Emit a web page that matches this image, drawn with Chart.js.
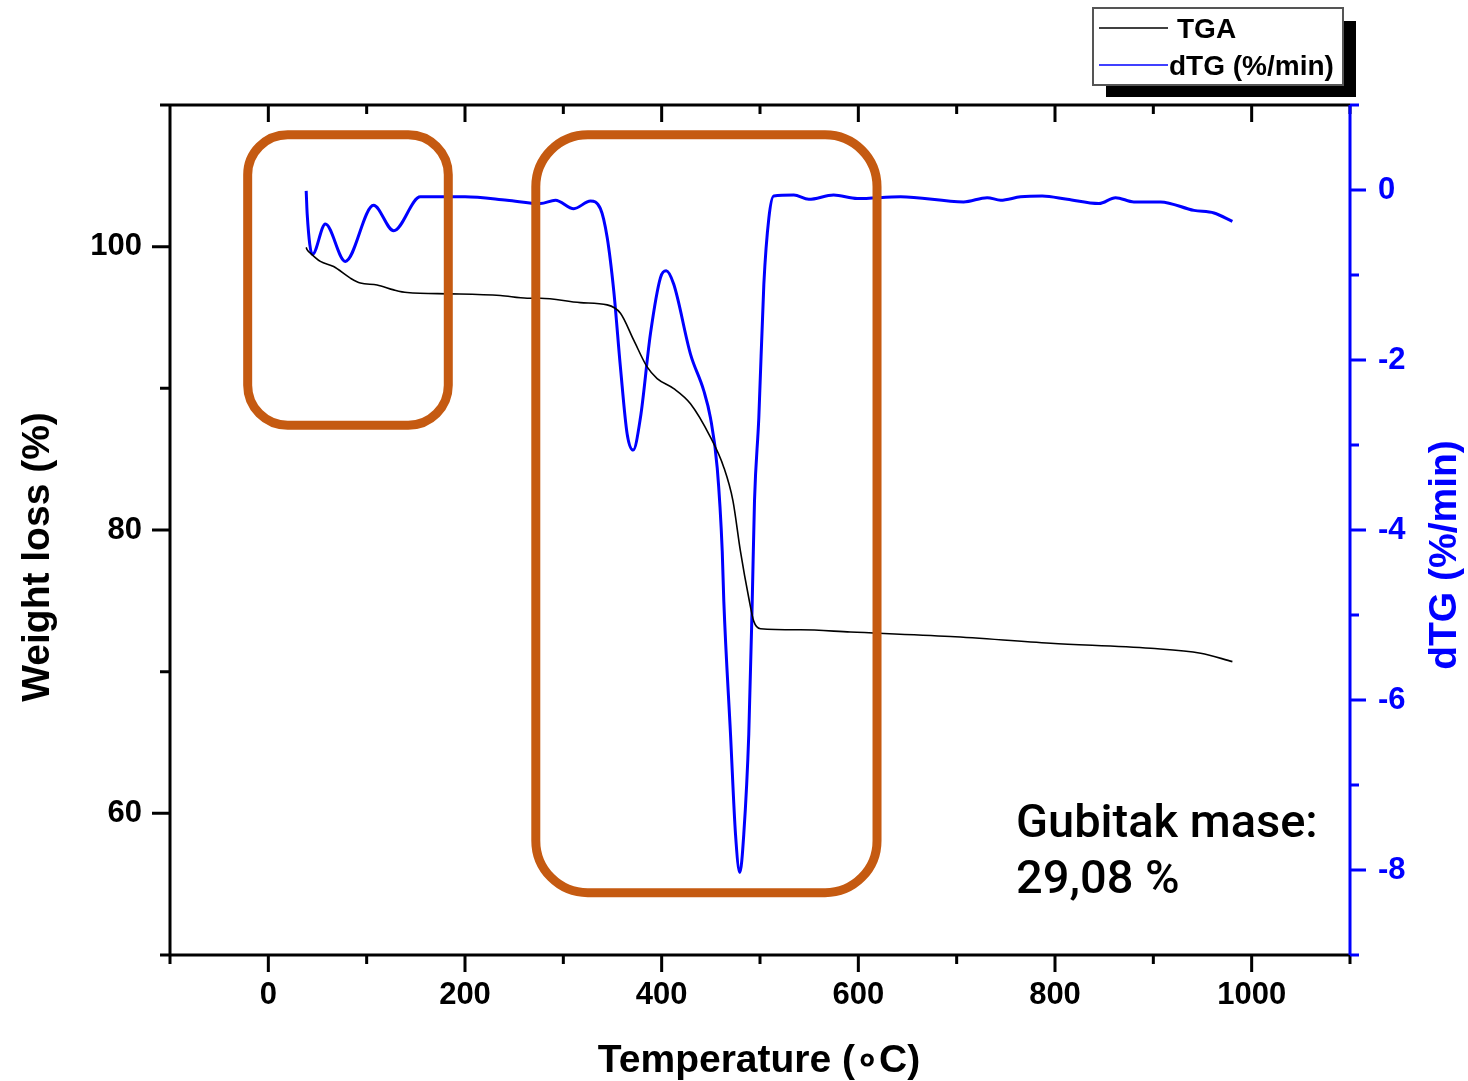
<!DOCTYPE html>
<html>
<head>
<meta charset="utf-8">
<script src="https://cdn.jsdelivr.net/npm/chart.js@4.4.0/dist/chart.umd.min.js"></script>
<style>
html, body { margin: 0; padding: 0; background: #fff; }
</style>
</head>
<body>
<canvas id="tgaChart" width="1468" height="1081"></canvas>
<script>
// TGA curve (weight %, left axis)
const tgaTemp = [38.5, 39.4, 42.7, 52.9, 66.4, 83.4, 93.6, 110.6, 127.5, 141.1,
    185.1, 236, 263.2, 276.7, 317.4, 344.6, 358.1, 371.6, 385.2, 395.4,
    412.3, 429.3, 449.6, 463.2, 472.5, 480.1, 488.6, 493.7, 500.5, 541.2,
    592, 693.8, 795.5, 897.3, 948.1, 980.4];
const tgaWeight = [99.95, 99.79, 99.55, 98.96, 98.60, 97.78, 97.43, 97.30, 96.95, 96.76,
    96.67, 96.55, 96.36, 96.36, 96.05, 95.89, 95.30, 93.40, 91.51, 90.69,
    89.98, 88.91, 86.55, 84.42, 82.06, 78.51, 75.20, 73.55, 73.03, 72.96,
    72.80, 72.48, 72.01, 71.65, 71.30, 70.71];

// dTG curve (%/min, right axis)
const dtgTemp = [38.5, 39.5, 44.8, 58, 78.3, 107, 127.5, 154.6, 200, 242.8,
    276.7, 292, 310.6, 327.6, 337.7, 344.6, 351.3, 358.1, 364.9, 371,
    378.4, 388.6, 398.8, 404.6, 412.3, 429.3, 442.8, 449.6, 456.5, 461.6,
    463.2, 470, 475.1, 479.5, 483.5, 488.6, 492.1, 494.4, 498.8, 503.9,
    509, 514, 534.4, 549.6, 574.8, 598.9, 643, 707, 731, 744.7,
    765, 787, 812.5, 844.7, 861.6, 880.3, 907.4, 941.3, 961.7, 980.4];
const dtgRate = [-0.01, -0.28, -0.76, -0.40, -0.84, -0.18, -0.48, -0.08, -0.08, -0.12,
    -0.16, -0.12, -0.22, -0.13, -0.22, -0.56, -1.19, -2.09, -2.87, -3.06,
    -2.68, -1.69, -1.03, -0.95, -1.11, -1.93, -2.36, -2.68, -3.27, -4.25,
    -4.84, -6.40, -7.58, -8.03, -7.58, -6.40, -4.84, -3.66, -2.68, -1.11,
    -0.33, -0.07, -0.06, -0.11, -0.06, -0.10, -0.08, -0.14, -0.09, -0.12,
    -0.08, -0.07, -0.11, -0.16, -0.09, -0.14, -0.14, -0.24, -0.27, -0.37];

// highlighted regions (temperature / weight coords)
const regions = [
    { t0: -21, t1: 183, w0: 87.4, w1: 107.9, r: 40 },
    { t0: 272, t1: 619, w0: 54.4, w1: 107.9, r: 52 }
];
const noteLines = ["Gubitak mase:", "29,08 %"];

const BLUE = "#0000ff";
const ORANGE = "#c55a11";
const tickFont = { family: "Liberation Sans", weight: "bold", size: 31 };
const titleFont = "bold 39px 'Liberation Sans'";

const toPoints = (xs, ys) => xs.map((x, i) => ({ x: x, y: ys[i] }));

// frame, tick marks, boxes, legend and titles
const decor = {
    id: "decor",
    afterDatasetsDraw(chart) {
        const { ctx, chartArea: a, scales } = chart;
        const x = scales.x, y = scales.y, y2 = scales.y2;
        ctx.save();

        // orange boxes
        ctx.strokeStyle = ORANGE;
        ctx.lineWidth = 9;
        regions.forEach(b => {
            const l = x.getPixelForValue(b.t0), r = x.getPixelForValue(b.t1);
            const t = y.getPixelForValue(b.w1), bt = y.getPixelForValue(b.w0);
            ctx.beginPath();
            ctx.roundRect(l, t, r - l, bt - t, b.r);
            ctx.stroke();
        });

        // axis lines
        ctx.lineWidth = 3;
        ctx.strokeStyle = "#000";
        ctx.beginPath();
        ctx.moveTo(a.left, a.top); ctx.lineTo(a.right, a.top);
        ctx.moveTo(a.left, a.top); ctx.lineTo(a.left, a.bottom);
        ctx.moveTo(a.left, a.bottom); ctx.lineTo(a.right, a.bottom);
        // ticks on bottom (outward) and top (inward)
        for (let v = -100; v <= 1100; v += 100) {
            const px = x.getPixelForValue(v);
            const len = v % 200 === 0 ? 17 : 9;
            ctx.moveTo(px, a.bottom); ctx.lineTo(px, a.bottom + len);
            ctx.moveTo(px, a.top); ctx.lineTo(px, a.top + len);
        }
        // left ticks
        for (let v = 50; v <= 110; v += 10) {
            const py = y.getPixelForValue(v);
            const len = v % 20 === 0 ? 18 : 10;
            ctx.moveTo(a.left - len, py); ctx.lineTo(a.left, py);
        }
        ctx.stroke();

        // right axis in blue
        ctx.strokeStyle = BLUE;
        ctx.beginPath();
        ctx.moveTo(a.right, a.top); ctx.lineTo(a.right, a.bottom);
        for (let v = -9; v <= 1; v++) {
            const py = y2.getPixelForValue(v);
            const len = v % 2 === 0 ? 16 : 9;
            ctx.moveTo(a.right, py); ctx.lineTo(a.right + len, py);
        }
        ctx.stroke();

        // note text
        ctx.fillStyle = "#000";
        ctx.font = "500 47px Roboto";
        ctx.textBaseline = "alphabetic";
        ctx.textAlign = "left";
        ctx.fillText(noteLines[0], 1016, 837);
        ctx.fillText(noteLines[1], 1016, 893);

        ctx.restore();
    },
    afterDraw(chart) {
        const ctx = chart.ctx;
        const ds = chart.data.datasets;
        ctx.save();

        // legend box with shadow
        ctx.fillStyle = "#000";
        ctx.fillRect(1106, 21, 250, 76);
        ctx.fillStyle = "#fff";
        ctx.fillRect(1093, 8, 250, 77);
        ctx.strokeStyle = "#555";
        ctx.lineWidth = 2;
        ctx.strokeRect(1093, 8, 250, 77);

        ctx.lineWidth = 1.5;
        ctx.strokeStyle = ds[0].borderColor;
        ctx.beginPath(); ctx.moveTo(1099, 28); ctx.lineTo(1168, 28); ctx.stroke();
        ctx.strokeStyle = ds[1].borderColor;
        ctx.beginPath(); ctx.moveTo(1099, 65); ctx.lineTo(1168, 65); ctx.stroke();

        ctx.fillStyle = "#000";
        ctx.font = "bold 28px 'Liberation Sans'";
        ctx.textBaseline = "middle";
        ctx.textAlign = "left";
        ctx.fillText(ds[0].label, 1177, 30);
        ctx.fillText(ds[1].label, 1169, 67);

        // axis titles
        ctx.font = titleFont;
        ctx.textAlign = "center";
        ctx.fillText("Temperature (\u2218C)", 759, 1061);

        ctx.save();
        ctx.translate(38, 557);
        ctx.rotate(-Math.PI / 2);
        ctx.fillText("Weight loss (%)", 0, 0);
        ctx.restore();

        ctx.save();
        ctx.fillStyle = BLUE;
        ctx.translate(1445, 555);
        ctx.rotate(-Math.PI / 2);
        ctx.fillText("dTG (%/min)", 0, 0);
        ctx.restore();

        ctx.restore();
    }
};

new Chart(document.getElementById("tgaChart"), {
    type: "line",
    data: {
        datasets: [
            {
                label: "TGA",
                data: toPoints(tgaTemp, tgaWeight),
                yAxisID: "y",
                borderColor: "#000000",
                borderWidth: 1.6,
                pointRadius: 0,
                cubicInterpolationMode: "monotone"
            },
            {
                label: "dTG (%/min)",
                data: toPoints(dtgTemp, dtgRate),
                yAxisID: "y2",
                borderColor: BLUE,
                borderWidth: 3,
                pointRadius: 0,
                cubicInterpolationMode: "monotone"
            }
        ]
    },
    options: {
        responsive: false,
        animation: false,
        layout: { padding: { top: 105, left: 0, right: 0, bottom: 0 } },
        plugins: { legend: { display: false }, tooltip: { enabled: false } },
        scales: {
            x: {
                type: "linear",
                min: -100,
                max: 1100,
                grid: { display: false, drawTicks: false },
                border: { display: false },
                ticks: {
                    stepSize: 100,
                    autoSkip: false,
                    maxRotation: 0,
                    padding: 22,
                    color: "#000",
                    font: tickFont,
                    callback: v => (v % 200 === 0 ? String(v) : "")
                },
                afterFit: s => { s.height = 126; }
            },
            y: {
                position: "left",
                min: 50,
                max: 110,
                grid: { display: false, drawTicks: false },
                border: { display: false },
                ticks: {
                    stepSize: 10,
                    autoSkip: false,
                    padding: 28,
                    color: "#000",
                    font: tickFont,
                    callback: v => (v % 20 === 0 ? String(v) : "")
                },
                afterFit: s => { s.width = 170; }
            },
            y2: {
                position: "right",
                min: -9,
                max: 1,
                grid: { display: false, drawTicks: false },
                border: { display: false },
                ticks: {
                    stepSize: 1,
                    autoSkip: false,
                    padding: 28,
                    color: BLUE,
                    font: tickFont,
                    callback: v => (v % 2 === 0 ? String(v) : "")
                },
                afterFit: s => { s.width = 118; }
            }
        }
    },
    plugins: [decor]
});
</script>
</body>
</html>
